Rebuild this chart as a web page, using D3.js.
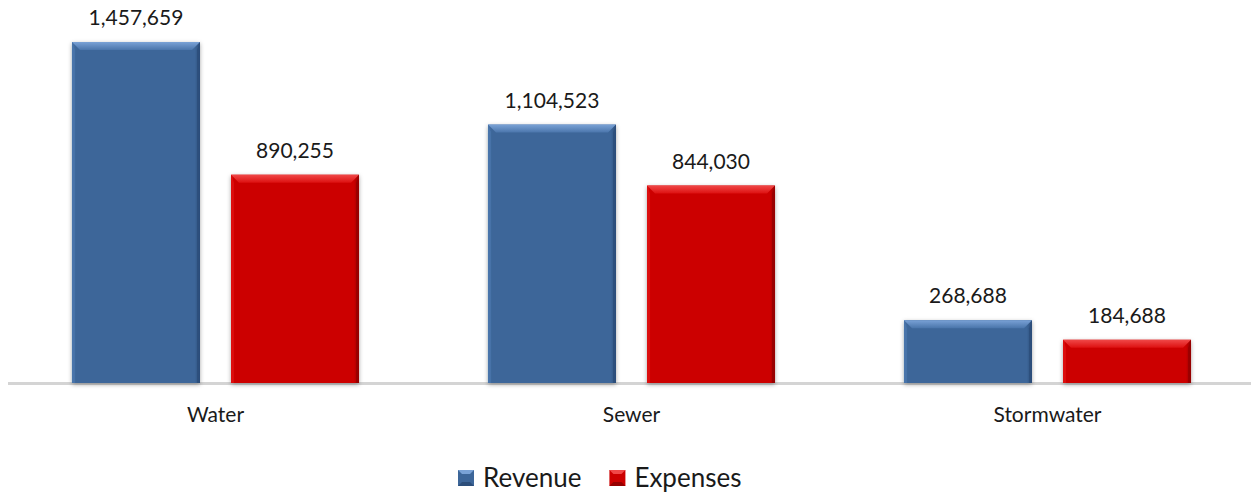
<!DOCTYPE html>
<html>
<head>
<meta charset="utf-8">
<script src="https://cdn.jsdelivr.net/npm/d3@7"></script>
<style>
  html, body { margin: 0; padding: 0; background: #ffffff; }
  svg { display: block; }
  text { font-family: Lato, "Open Sans", sans-serif; fill: #1a1a1a; }
</style>
</head>
<body>
<svg id="chart" width="1251" height="493"></svg>
<script>
// Utility revenue and expenses by fund
const categories = ["Water", "Sewer", "Stormwater"];
const seriesNames = ["Revenue", "Expenses"];
const revenue = [1457659, 1104523, 268688];
const expenses = [890255, 844030, 184688];

const seriesValues = { Revenue: revenue, Expenses: expenses };
const colors = {
  Revenue:  { base: "#3d6699", light: "#7aa2d6", dark: "#2c4e7a", side: "#4a75ab" },
  Expenses: { base: "#cc0000", light: "#f04848", dark: "#960000", side: "#dd1010" }
};

const svg = d3.select("#chart");
const W = 1251, H = 493;
const baseY = 383;

const x0 = d3.scaleBand().domain(categories).range([7.5, 1255.5]).paddingInner(0.31).paddingOuter(0.155);
const x1 = d3.scaleBand().domain(seriesNames).range([0, x0.bandwidth()]).paddingInner(0.195);
const y = d3.scaleLinear().domain([0, 1600000]).range([baseY, 8.7]);

const fmt = d3.format(",");

// filters and gradients
const defs = svg.append("defs");
const shadow = defs.append("filter").attr("id", "barShadow")
  .attr("x", "-20%").attr("y", "-20%").attr("width", "140%").attr("height", "140%");
shadow.append("feDropShadow").attr("dx", 0).attr("dy", 1.5).attr("stdDeviation", 2.2)
  .attr("flood-color", "#000").attr("flood-opacity", 0.35);

seriesNames.forEach(s => {
  const c = colors[s];
  const gTop = defs.append("linearGradient").attr("id", "top-" + s)
    .attr("x1", 0).attr("y1", 0).attr("x2", 0).attr("y2", 1);
  gTop.append("stop").attr("offset", "0%").attr("stop-color", c.light);
  gTop.append("stop").attr("offset", "100%").attr("stop-color", c.side);
  const gBody = defs.append("linearGradient").attr("id", "body-" + s)
    .attr("x1", 0).attr("y1", 0).attr("x2", 1).attr("y2", 0);
  gBody.append("stop").attr("offset", "0%").attr("stop-color", c.side);
  gBody.append("stop").attr("offset", "3%").attr("stop-color", c.base);
  gBody.append("stop").attr("offset", "96%").attr("stop-color", c.base);
  gBody.append("stop").attr("offset", "100%").attr("stop-color", c.dark);
});

// axis baseline
svg.append("line")
  .attr("x1", 8).attr("x2", W).attr("y1", baseY + 0.5).attr("y2", baseY + 0.5)
  .attr("stroke", "#d4d4d4").attr("stroke-width", 3);

// bars with a bevelled top edge
const rows = [];
categories.forEach((cat, i) => {
  seriesNames.forEach(s => rows.push({ cat, s, v: seriesValues[s][i] }));
});

const bars = svg.append("g").selectAll("g.bar").data(rows).join("g").attr("class", "bar");

bars.each(function(d) {
  const g = d3.select(this);
  const bx = x0(d.cat) + x1(d.s);
  const bw = x1.bandwidth();
  const top = y(d.v);
  const h = baseY - top;
  const bev = 8;
  const c = colors[d.s];
  g.append("rect").attr("x", bx).attr("y", top).attr("width", bw).attr("height", h)
    .attr("fill", `url(#body-${d.s})`).attr("filter", "url(#barShadow)");
  // top bevel
  g.append("path")
    .attr("d", `M${bx},${top} L${bx + bw},${top} L${bx + bw - bev},${top + bev} L${bx + bev},${top + bev} Z`)
    .attr("fill", `url(#top-${d.s})`);
  // left bevel
  g.append("path")
    .attr("d", `M${bx},${top} L${bx + 3},${top + bev} L${bx + 3},${baseY} L${bx},${baseY} Z`)
    .attr("fill", c.side).attr("opacity", 0.8);
  // right bevel
  g.append("path")
    .attr("d", `M${bx + bw},${top} L${bx + bw - 3},${top + bev} L${bx + bw - 3},${baseY} L${bx + bw},${baseY} Z`)
    .attr("fill", c.dark).attr("opacity", 0.8);
  // value label
  g.append("text")
    .attr("x", bx + bw / 2).attr("y", top - 17)
    .attr("text-anchor", "middle").attr("font-size", 21)
    .text(fmt(d.v));
});

// category labels
svg.append("g").selectAll("text").data(categories).join("text")
  .attr("x", d => x0(d) + x0.bandwidth() / 2)
  .attr("y", 422)
  .attr("text-anchor", "middle").attr("font-size", 21)
  .text(d => d);

// legend
const legend = svg.append("g");
let lx = 458;
seriesNames.forEach(s => {
  const c = colors[s];
  const item = legend.append("g");
  item.append("rect").attr("x", lx).attr("y", 470).attr("width", 16).attr("height", 16)
    .attr("fill", c.base);
  item.append("path")
    .attr("d", `M${lx},470 L${lx + 16},470 L${lx + 12},474 L${lx + 4},474 Z`)
    .attr("fill", c.light);
  item.append("path")
    .attr("d", `M${lx},486 L${lx + 16},486 L${lx + 12},482 L${lx + 4},482 Z`)
    .attr("fill", c.dark);
  const t = item.append("text").attr("x", lx + 25).attr("y", 487)
    .attr("font-size", 26).text(s);
  lx = lx + 25 + t.node().getComputedTextLength() + 28;
});
</script>
</body>
</html>
